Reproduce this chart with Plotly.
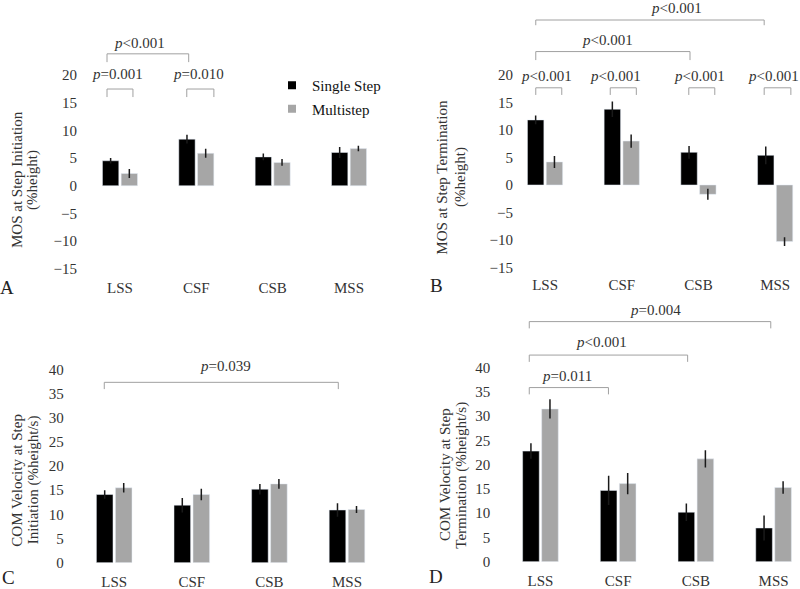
import plotly.graph_objects as go

categorias = ["LSS", "CSF", "CSB", "MSS"]

# A: MOS at step initiation (%height)
mos_ini_single = [4.5, 8.4, 5.2, 6.0]
mos_ini_single_err = [0.5, 0.8, 0.6, 1.0]
mos_ini_multi = [2.2, 5.85, 4.2, 6.7]
mos_ini_multi_err = [0.8, 0.8, 0.6, 0.5]

# B: MOS at step termination (%height)
mos_fin_single = [11.85, 13.8, 5.95, 5.4]
mos_fin_single_err = [0.8, 1.4, 1.15, 1.6]
mos_fin_multi = [4.2, 8.0, -1.7, -10.3]
mos_fin_multi_err = [1.1, 1.2, 1.0, 0.8]

# C: COM velocity at step initiation (%height/s)
vel_ini_single = [14.1, 11.9, 15.2, 10.9]
vel_ini_single_err = [0.9, 1.5, 1.1, 1.4]
vel_ini_multi = [15.5, 14.1, 16.3, 11.0]
vel_ini_multi_err = [1.0, 1.2, 1.0, 0.7]

# D: COM velocity at step termination (%height/s)
vel_fin_single = [22.8, 14.7, 10.2, 6.95]
vel_fin_single_err = [1.6, 3.0, 1.8, 2.6]
vel_fin_multi = [31.5, 16.1, 21.2, 15.3]
vel_fin_multi_err = [2.0, 2.2, 1.8, 1.3]

# p values: (x0, x1, nivel, punta, y texto, texto, x texto)
p_A = [(-0.17, 0.17, 17.45, 16.0, 20.2, "p=0.001", -0.026),
       (0.875, 1.23, 17.45, 16.0, 20.2, "p=0.010", 1.03),
       (-0.17, 0.90, 23.8, 22.3, 25.8, "p<0.001", 0.26)]
p_B = [(-0.121, 0.218, 17.7, 16.4, 19.85, "p<0.001", 0.022),
       (0.85, 1.19, 17.7, 16.4, 19.85, "p<0.001", 0.92),
       (1.874, 2.213, 17.7, 16.4, 19.85, "p<0.001", 2.013),
       (2.857, 3.205, 17.7, 16.4, 19.85, "p<0.001", 2.974),
       (-0.121, 1.89, 24.3, 22.75, 26.4, "p<0.001", 0.82),
       (-0.121, 2.857, 30.05, 29.1, 32.2, "p<0.001", 1.717)]
p_C = [(-0.128, 2.888, 37.3, 35.9, 40.7, "p=0.039", 1.428)]
p_D = [(-0.144, 2.964, 49.5, 48.1, 51.9, "p=0.004", 1.474),
       (-0.144, 1.894, 42.6, 41.2, 45.2, "p<0.001", 0.788),
       (-0.144, 0.875, 35.9, 34.5, 38.3, "p=0.011", 0.337)]

FUENTE = "Liberation Serif, Times New Roman, serif"
W, H = 800, 589
NEGRO = "#000000"
GRIS = "#a6a6a6"
TXT = "#333333"
LINEA = "#a0a0a0"


def px_x(v):
    return v / W


def px_y(v):
    return 1 - v / H


paneles = [
    dict(s=mos_ini_single, se=mos_ini_single_err, m=mos_ini_multi, me=mos_ini_multi_err,
         xdom=[81.8, 387.2], xr=[-0.5, 3.5], ydom=[271.6, 36.1], yr=[-15.5, 27],
         ticks=list(range(-15, 21, 5)), ypos=77, ticklen=2, p=p_A, letra="A", lxy=(7, 287),
         titulo=["MOS at Step Initiation", "(%height)"], txy=(17, 32, 180)),
    dict(s=mos_fin_single, se=mos_fin_single_err, m=mos_fin_multi, me=mos_fin_multi_err,
         xdom=[506.7, 800], xr=[-0.5, 3.324], ydom=[270.1, 3.8], yr=[-15.5, 33],
         ticks=list(range(-15, 21, 5)), ypos=513, ticklen=1, p=p_B, letra="B", lxy=(436, 285),
         titulo=["MOS at Step Termination", "(%height)"], txy=(441.7, 460, 177)),
    dict(s=vel_ini_single, se=vel_ini_single_err, m=vel_ini_multi, me=vel_ini_multi_err,
         xdom=[75.4, 385.8], xr=[-0.5, 3.5], ydom=[562.7, 359.6], yr=[0, 42],
         ticks=list(range(0, 41, 5)), ypos=63.7, ticklen=5, p=p_C, letra="C", lxy=(8, 577),
         titulo=["COM Velocity at Step", "Initiation (%height/s)"], txy=(16.7, 33.3, 480)),
    dict(s=vel_fin_single, se=vel_fin_single_err, m=vel_fin_multi, me=vel_fin_multi_err,
         xdom=[501.6, 800], xr=[-0.5, 3.34], ydom=[561.7, 302.2], yr=[0, 53.5],
         ticks=list(range(0, 41, 5)), ypos=490.3, ticklen=5, p=p_D, letra="D", lxy=(436, 576),
         titulo=["COM Velocity at Step", "Termination (%height/s)"], txy=(445, 461.7, 475)),
]

fig = go.Figure()
shapes = []
annotations = []

for k, pan in enumerate(paneles, start=1):
    sx = "" if k == 1 else str(k)
    xa, ya = "x" + sx, "y" + sx
    fig.add_trace(go.Bar(x=categorias, y=pan["s"], name="Single Step", marker_color=NEGRO,
                         error_y=dict(type="data", array=pan["se"], color="#1a1a1a", thickness=1.5, width=0),
                         xaxis=xa, yaxis=ya, showlegend=False))
    fig.add_trace(go.Bar(x=categorias, y=pan["m"], name="Multistep", marker_color=GRIS,
                         error_y=dict(type="data", array=pan["me"], color="#1a1a1a", thickness=1.5, width=0),
                         xaxis=xa, yaxis=ya, showlegend=False))

    fig.layout["xaxis" + sx] = dict(
        domain=[px_x(pan["xdom"][0]), px_x(pan["xdom"][1])], range=pan["xr"], anchor=ya,
        type="category", showgrid=False, zeroline=False, showline=False, automargin=False,
        ticks="outside", ticklen=pan["ticklen"], tickcolor="rgba(0,0,0,0)",
        tickfont=dict(family=FUENTE, size=15, color=TXT), fixedrange=True)
    fig.layout["yaxis" + sx] = dict(
        domain=[px_y(pan["ydom"][0]), px_y(pan["ydom"][1])], range=pan["yr"],
        anchor="free", position=px_x(pan["ypos"]), tickvals=pan["ticks"], automargin=False,
        showgrid=False, zeroline=False, showline=False, ticks="",
        tickfont=dict(family=FUENTE, size=15, color=TXT), fixedrange=True)

    for x0, x1, nivel, punta, yt, texto, xt in pan["p"]:
        for a, b, c, d in [(x0, punta, x0, nivel), (x0, nivel, x1, nivel), (x1, nivel, x1, punta)]:
            shapes.append(dict(type="line", xref=xa, yref=ya, x0=a, y0=b, x1=c, y1=d,
                               line=dict(color=LINEA, width=1)))
        annotations.append(dict(xref=xa, yref=ya, x=xt, y=yt, showarrow=False,
                                text="<i>p</i>" + texto[1:].replace("<", "&lt;"),
                                font=dict(family=FUENTE, size=15, color=TXT)))

    annotations.append(dict(xref="paper", yref="paper", x=px_x(pan["lxy"][0]), y=px_y(pan["lxy"][1]),
                            text=pan["letra"], showarrow=False, xanchor="center", yanchor="middle",
                            font=dict(family=FUENTE, size=19, color="#222222")))
    tx1, tx2, ty = pan["txy"]
    for xx, linea in zip([tx1, tx2], pan["titulo"]):
        annotations.append(dict(xref="paper", yref="paper", x=px_x(xx), y=px_y(ty), text=linea,
                                textangle=-90, showarrow=False, xanchor="center", yanchor="middle",
                                font=dict(family=FUENTE, size=15, color=TXT)))

# legend entries
fig.add_trace(go.Scatter(x=[None], y=[None], mode="markers", name="Single Step", legendgroup="a",
                         marker=dict(symbol="square", size=8, color=NEGRO)))
fig.add_trace(go.Scatter(x=[None], y=[None], mode="markers", name="Multistep", legendgroup="b",
                         marker=dict(symbol="square", size=8, color=GRIS)))

fig.update_layout(
    width=W, height=H, margin=dict(l=0, r=0, t=0, b=0, autoexpand=False),
    paper_bgcolor="white", plot_bgcolor="white",
    barmode="group", bargap=0.51, bargroupgap=0.127,
    shapes=shapes, annotations=annotations,
    legend=dict(x=px_x(272), y=px_y(69), xanchor="left", yanchor="top", bgcolor="rgba(0,0,0,0)",
                font=dict(family=FUENTE, size=15, color="#111111"), tracegroupgap=1),
    font=dict(family=FUENTE),
)

# quitar el margen del body para que la figura empiece en (0, 0)
fig.write_html("out.html", config={"displayModeBar": False},
               post_script="document.body.style.margin='0';")
